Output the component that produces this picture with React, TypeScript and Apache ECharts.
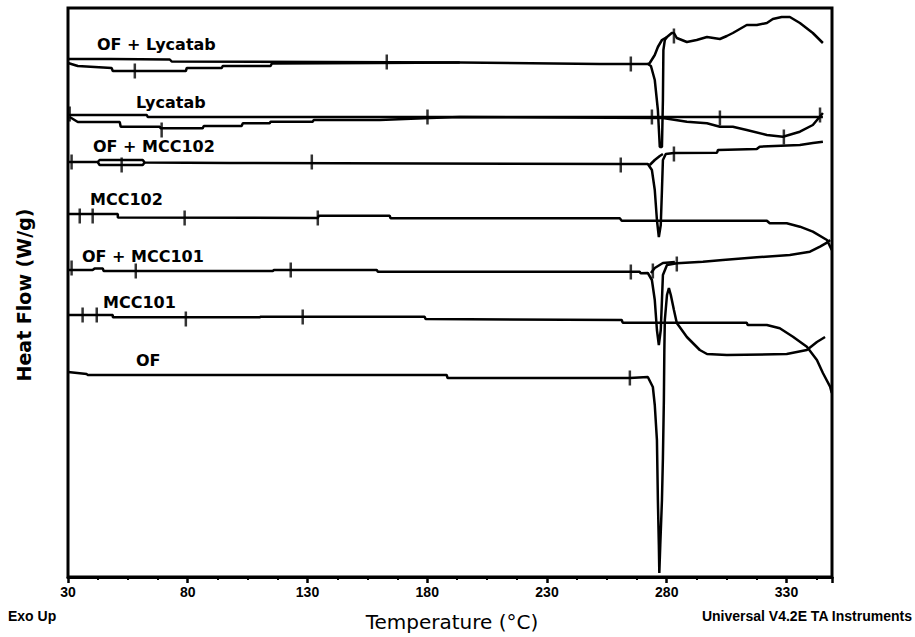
import React, { useEffect, useRef } from 'react';
import * as echarts from 'echarts';

// Temperature axis (°C)
const tempTicks = [30, 80, 130, 180, 230, 280, 330];
const tempMin = 30;
const tempMax = 349;

// Heat flow (offset, arbitrary units; curves stacked as in the thermogram)
const ofLycatabMain = [[30,51.8],[47.8,51.8],[72.5,51.75],[73.3,51.55],[193.6,51.45],[252,51.3],[272.1,51.3],[273.4,51.1],[275,49.7],[276.3,46.7],[277.1,43.0],[278,43.0],[278.4,47.7],[278.6,52.7],[279.2,53.7],[280.1,54.0],[282.1,54.4],[283,54.4],[284.2,53.9],[288.4,53.5],[292.5,53.7],[296.8,54.0],[302.2,53.8],[305.1,54.1],[307.6,54.4],[313.4,55.2],[317.6,55.2],[321.8,55.4],[324.3,55.8],[328,56.0],[331.4,56.0],[335.6,55.4],[341,54.4],[345.2,53.4]];
const ofLycatabLower = [[30,51.4],[34.1,51.1],[48.2,50.9],[48.7,50.6],[79.2,50.6],[79.6,50.9],[94.2,50.9],[94.6,51.1],[114.6,51.1],[115.1,51.35],[158.9,51.4],[193.6,51.45]];
const ofLycatabRise = [[272.1,51.3],[272.9,51.4],[275,52.2],[276.3,53.0],[278,53.7],[280.1,54.0]];

const lycatabMain = [[30,46.2],[62.9,46.2],[63.3,46.0],[345.2,46.0]];
const lycatabLower = [[30.7,46.0],[34.1,45.5],[51.6,45.5],[52,45.03],[68.3,45.03],[68.7,44.87],[86.2,44.87],[86.7,45.1],[102.5,45.1],[103,45.37],[114.2,45.37],[114.6,45.53],[132.2,45.53],[132.6,45.7],[160.2,45.7],[181,45.9],[193.6,46.0],[278.4,45.9],[288.4,45.53],[296.8,45.37],[302.2,45.03],[307.6,45.03],[313.4,44.7],[321.8,44.2],[328.5,44.03],[335.6,44.53],[341,45.2],[345.2,46.4]];

const ofMcc102Main = [[30,41.5],[42.4,41.5],[43.2,41.7],[61.2,41.7],[62,41.45],[97.5,41.4],[260.4,41.3],[272.1,41.3],[273.8,40.7],[275,38.7],[275.9,35.7],[276.7,34.0],[277.5,35.2],[278,38.7],[278.4,41.7],[279.6,42.3],[283,42.4],[301,42.43],[301.4,42.7],[317.6,42.8],[318.8,43.03],[335.6,43.2],[341,43.4],[345.2,43.53]];
const ofMcc102Loop = [[42.4,41.5],[43.2,41.2],[61.2,41.2],[62,41.45]];
const ofMcc102Rise = [[272.9,41.2],[275,41.7],[277.1,42.1],[278.4,42.3]];

const mcc102 = [[30,36.3],[50.8,36.3],[50.8,35.95],[134.3,35.9],[134.7,36.13],[164.3,36.13],[164.7,35.87],[260.4,35.87],[261.2,35.63],[321.8,35.63],[323,35.37],[330.1,35.37],[335.6,35.03],[341,34.53],[346.9,33.7],[348.9,32.7]];

const ofMcc101Main = [[30,30.7],[40.3,30.7],[41.1,30.85],[44.5,30.85],[44.9,30.6],[115.5,30.6],[116,30.7],[158.9,30.7],[159.4,30.53],[268.7,30.53],[269.1,30.37],[272.1,30.4],[273.8,29.7],[275,27.7],[275.9,24.7],[276.7,23.2],[277.5,24.7],[278,27.7],[278.4,30.2],[280.1,31.2],[284.2,31.37],[295.1,31.53],[303.4,31.7],[317.6,31.97],[331.4,32.2],[339.8,32.53],[344,33.03],[346.9,33.43],[348.2,33.7]];
const ofMcc101Rise = [[273.4,30.4],[275,30.9],[278.4,31.4],[283.4,31.5]];

const mcc101 = [[30,26.2],[48.7,26.2],[48.7,25.97],[110,25.97],[110.5,26.03],[178.9,26.03],[179.3,25.8],[261.2,25.7],[261.6,25.43],[313.4,25.43],[313.8,25.2],[321.8,25.2],[327.2,24.87],[332.7,24.03],[338.5,23.03],[342.7,21.7],[345.2,20.4],[348.2,19.03],[348.9,18.4]];

const ofPure = [[30,20.5],[37.8,20.3],[38.2,20.2],[188.1,20.2],[188.5,19.9],[264.6,19.9],[272.1,20.0],[274.2,19.0],[275,17.2],[275.9,13.7],[276.3,7.7],[276.7,3.2],[276.9,0.4],[277.3,3.2],[278,7.7],[278.4,11.9],[278.8,17.7],[279,22.7],[279.2,25.7],[280.1,28.2],[280.9,28.9],[281.7,28.2],[283,26.7],[284.2,25.4],[288.4,24.0],[293.8,22.7],[296.8,22.3],[305.1,22.2],[330.1,22.3],[338.5,22.7],[342.7,23.5],[346.1,24.0]];

// Analysis cursor marks on the curves
const cursorMarks = [
  [57.9,50.6],[163.1,51.5],[265,51.3],[283,54.1],
  [30.7,46.3],[69.1,44.7],[180.1,46.0],[273.8,46.0],[302.2,45.9],[328.9,44.0],[344,46.2],
  [31.5,41.5],[52.4,41.2],[131.8,41.5],[260.8,41.2],[283,42.3],
  [34.9,36.1],[40.3,36.1],[78.7,35.9],[134.3,35.9],
  [31.5,30.9],[58.3,30.6],[123,30.7],[265,30.5],[274.2,30.6],[284.2,31.3],
  [36.1,26.2],[42,26.2],[79.2,25.8],[128,26.0],
  [264.6,19.9],
];

const curveNames = ['OF + Lycatab', 'Lycatab', 'OF + MCC102', 'MCC102', 'OF + MCC101', 'MCC101', 'OF'];

export default function App() {
  const ref = useRef<HTMLDivElement>(null);
  useEffect(() => {
    if (!ref.current) return;
    const chart = echarts.init(ref.current, null, { renderer: 'svg' });
    const line = (name: string, data: number[][]) => ({
      type: 'line', name, data, showSymbol: false, symbol: 'none', smooth: false,
      lineStyle: { color: '#000', width: 2.5 }, silent: true, z: 3,
    });
    const labelFont = 'bold 16px "DejaVu Sans"';
    const labelPos: [number, number][] = [
      [97, 44], [136, 102], [93, 146], [90, 199], [82, 256], [103, 302], [136, 360],
    ];
    const graphics: any[] = curveNames.map((t, i) => ({
      type: 'text', x: labelPos[i][0], y: labelPos[i][1], z: 10,
      style: { text: t, fill: '#000', font: labelFont, textAlign: 'left', textVerticalAlign: 'middle', align: 'left', verticalAlign: 'middle' },
    }));
    graphics.push(
      { type: 'text', x: 24, y: 295, rotation: Math.PI / 2, z: 10,
        style: { text: 'Heat Flow (W/g)', fill: '#000', font: 'bold 19px "DejaVu Sans"', textAlign: 'center', textVerticalAlign: 'middle', align: 'center', verticalAlign: 'middle' } },
      { type: 'text', x: 452, y: 622, z: 10,
        style: { text: 'Temperature (°C)', fill: '#000', font: '20px "DejaVu Sans"', textAlign: 'center', textVerticalAlign: 'middle', align: 'center', verticalAlign: 'middle' } },
      { type: 'text', x: 8, y: 616, z: 10,
        style: { text: 'Exo Up', fill: '#000', font: 'bold 14px "Liberation Sans"', textAlign: 'left', textVerticalAlign: 'middle', align: 'left', verticalAlign: 'middle' } },
      { type: 'text', x: 912, y: 616, z: 10,
        style: { text: 'Universal V4.2E TA Instruments', fill: '#000', font: 'bold 14px "Liberation Sans"', textAlign: 'right', textVerticalAlign: 'middle', align: 'right', verticalAlign: 'middle' } },
    );
    chart.setOption({
      animation: false,
      backgroundColor: '#fff',
      grid: { left: 68, right: 83, top: 8, bottom: 60, show: true, borderColor: '#000', borderWidth: 3, backgroundColor: 'transparent' },
      xAxis: {
        type: 'value', min: tempMin, max: tempMax, interval: 50,
        axisLine: { show: true, onZero: false, lineStyle: { color: '#000', width: 3 } },
        axisTick: { show: true, length: 6, lineStyle: { color: '#000', width: 2.5 } },
        minorTick: { show: true, splitNumber: 4, length: 3, lineStyle: { color: '#000', width: 2 } },
        axisLabel: {
          color: '#000', fontSize: 14, fontWeight: 'bold', fontFamily: 'Liberation Sans', margin: 8,
          showMaxLabel: false,
          formatter: (v: number) => (tempTicks.includes(v) ? String(v) : ''),
        },
        splitLine: { show: false }, minorSplitLine: { show: false },
      },
      yAxis: {
        type: 'value', min: 0, max: 56.9,
        axisLine: { show: false }, axisTick: { show: false }, axisLabel: { show: false }, splitLine: { show: false },
      },
      series: [
        line('OF + Lycatab', ofLycatabMain),
        line('OF + Lycatab b', ofLycatabLower),
        line('OF + Lycatab c', ofLycatabRise),
        line('Lycatab', lycatabMain),
        line('Lycatab b', lycatabLower),
        line('OF + MCC102', ofMcc102Main),
        line('OF + MCC102 b', ofMcc102Loop),
        line('OF + MCC102 c', ofMcc102Rise),
        line('MCC102', mcc102),
        line('OF + MCC101', ofMcc101Main),
        line('OF + MCC101 b', ofMcc101Rise),
        line('MCC101', mcc101),
        line('OF', ofPure),
        {
          type: 'scatter', name: 'cursors', data: cursorMarks, symbol: 'rect', symbolSize: [2.5, 15],
          itemStyle: { color: '#000' }, silent: true, z: 4,
        },
      ],
      graphic: graphics,
    });
    return () => chart.dispose();
  }, []);
  return <div ref={ref} style={{ position: 'fixed', left: 0, top: 0, width: 915, height: 637, background: '#fff' }} />;
}
